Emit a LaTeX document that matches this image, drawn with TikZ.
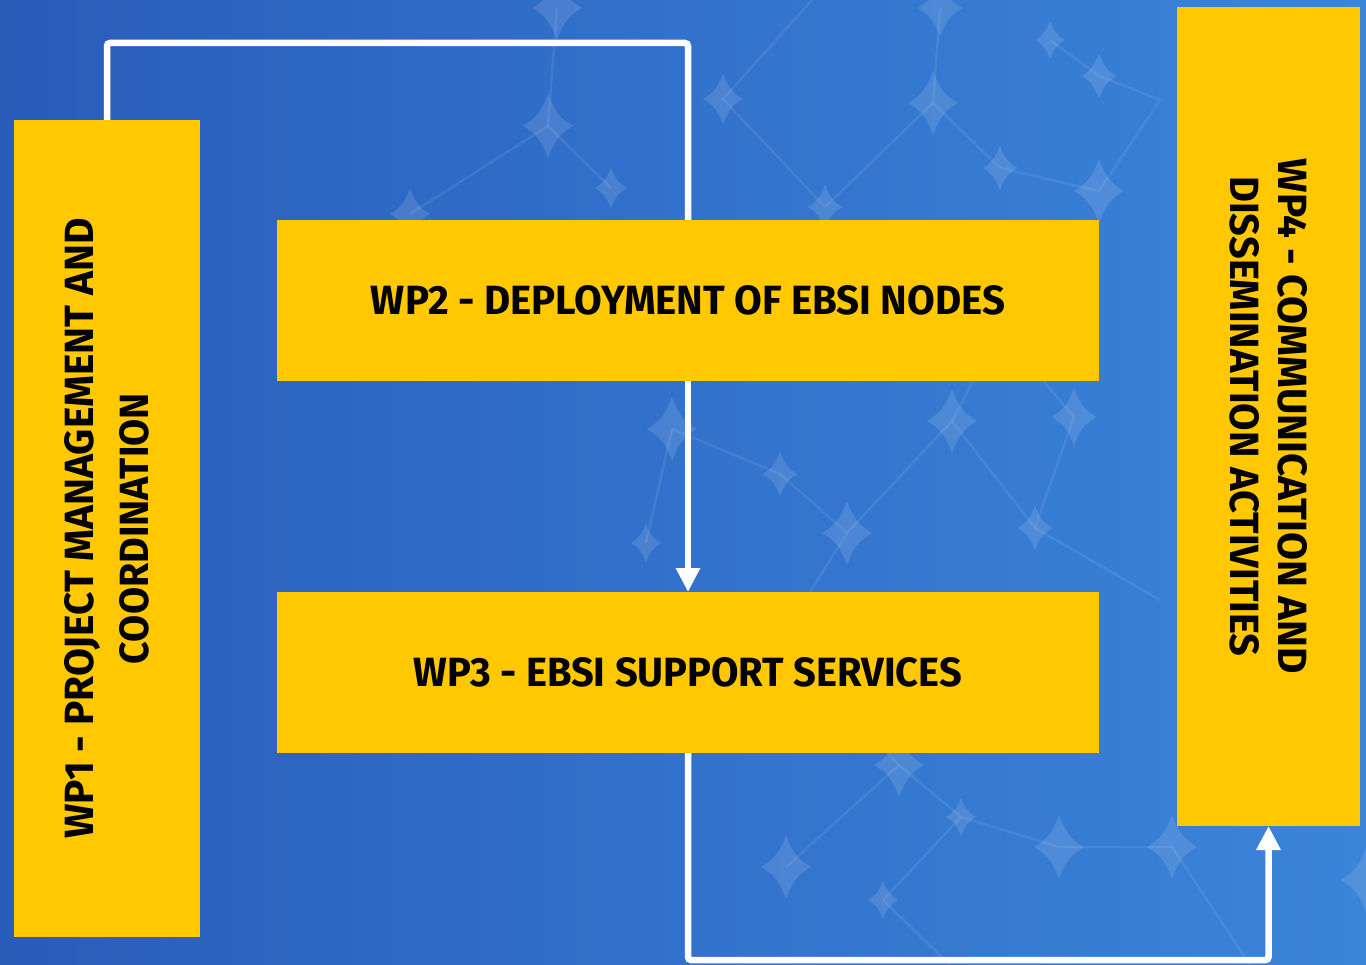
\documentclass[tikz,border=0pt]{standalone}
\usepackage{fontspec}
\usepackage{graphicx}
\setmainfont{Fira Sans}
\usetikzlibrary{arrows.meta}
\definecolor{wpyellow}{HTML}{FFC800}
\definecolor{bgleft}{HTML}{2146A8}
\definecolor{bgmid}{HTML}{3272CC}
\definecolor{bgright}{HTML}{4596E6}
\newcommand\wpfit[2]{\resizebox{#1pt}{29pt}{\bfseries #2}}
\newcommand\wptwo[4]{\vbox{\offinterlineskip\halign{\hfil##\hfil\cr\wpfit{#1}{#2}\cr\noalign{\vskip19pt}\wpfit{#3}{#4}\cr}}}
\tikzset{
  wpbox/.style={fill=wpyellow, draw=none, inner sep=0pt, outer sep=0pt, text=black},
  conn/.style={draw=white, line width=6.5pt, rounded corners=3pt},
  connarrow/.style={conn, -{Triangle[length=24pt,width=23pt]}},
  sparkle/.pic={\fill[white,opacity=0.12] (0,-32) .. controls (7,-13) and (13,-7) .. (25,0) .. controls (13,7) and (7,13) .. (0,32) .. controls (-7,13) and (-13,7) .. (-25,0) .. controls (-13,-7) and (-7,-13) .. cycle;},
  lattice/.style={draw=white, opacity=0.08, line width=2.5pt}
}
\pgfdeclarehorizontalshading{bgshade}{100bp}{color(0bp)=(bgleft); color(50bp)=(bgmid); color(100bp)=(bgright)}
\begin{document}
\begin{tikzpicture}[x=1pt,y=-1pt]
\useasboundingbox (0,0) rectangle (1366,965);
\shade[shading=bgshade] (0,0) rectangle (1366,965);
% decorative lattice
\draw[lattice] (410,214) -- (548,126) -- (611,188);
\draw[lattice] (548,126) -- (557,8);
\draw[lattice] (723,99) -- (812,0);
\draw[lattice] (723,99) -- (825,207) -- (933,103) -- (1000,168);
\draw[lattice] (933,103) -- (940,8);
\draw[lattice] (1099,191) -- (1160,100) -- (1099,76) -- (1050,40);
\draw[lattice] (1000,168) -- (1099,191);
\draw[lattice] (672,429) -- (780,474) -- (847,533) -- (952,421) -- (1035,528) -- (1074,417);
\draw[lattice] (646,543) -- (672,429);
\draw[lattice] (952,421) -- (1000,330) -- (1074,417);
\draw[lattice] (1035,528) -- (1160,600);
\draw[lattice] (847,533) -- (780,640) -- (899,765) -- (961,817) -- (1059,847);
\draw[lattice] (786,867) -- (899,765);
\draw[lattice] (883,900) -- (961,817);
\draw[lattice] (1059,847) -- (1172,847);
\draw[lattice] (883,900) -- (950,965);
\draw[lattice] (1172,847) -- (1250,965);
\foreach \sx/\sy/\ss in {557/8/1, 548/126/1, 611/188/0.65, 723/99/0.8, 825/207/0.7, 933/103/1, 1000/168/0.7, 1099/191/1, 1099/76/0.7, 940/8/0.9, 1050/40/0.6, 672/429/1, 780/474/0.7, 847/533/1, 952/421/1, 1074/417/0.9, 1035/528/0.7, 646/543/0.6, 899/765/1, 961/817/0.6, 786/867/1, 883/900/0.6, 1059/847/1, 1172/847/1, 1366/880/1, 410/214/0.8}
  \pic[scale=\ss] at (\sx,\sy) {sparkle};
% coordinates for connectors
\coordinate (topbend) at (688,43);
\coordinate (botbend) at (688,960);
% boxes
\node[wpbox, minimum width=186pt, minimum height=817pt] (wp1) at (107,528.5)
  {\rotatebox{90}{\wptwo{620}{WP1 - PROJECT MANAGEMENT AND}{271}{COORDINATION}}};
\node[wpbox, minimum width=822pt, minimum height=161pt] (wp2) at (688,300.5)
  {\wpfit{634}{WP2 - DEPLOYMENT OF EBSI NODES}};
\node[wpbox, minimum width=822pt, minimum height=161pt] (wp3) at (688,672.5)
  {\wpfit{548}{WP3 - EBSI SUPPORT SERVICES}};
\node[wpbox, minimum width=183pt, minimum height=819pt] (wp4) at (1268.5,416.5)
  {\rotatebox{-90}{\wptwo{515}{WP4 - COMMUNICATION AND}{480}{DISSEMINATION ACTIVITIES}}};
% connectors
\draw[conn] (wp1.north) |- (topbend) -- (wp2.north);
\draw[connarrow] (wp2.south) -- (wp3.north);
\draw[connarrow] (wp3.south) -- (botbend) -| (wp4.south);
\end{tikzpicture}
\end{document}
